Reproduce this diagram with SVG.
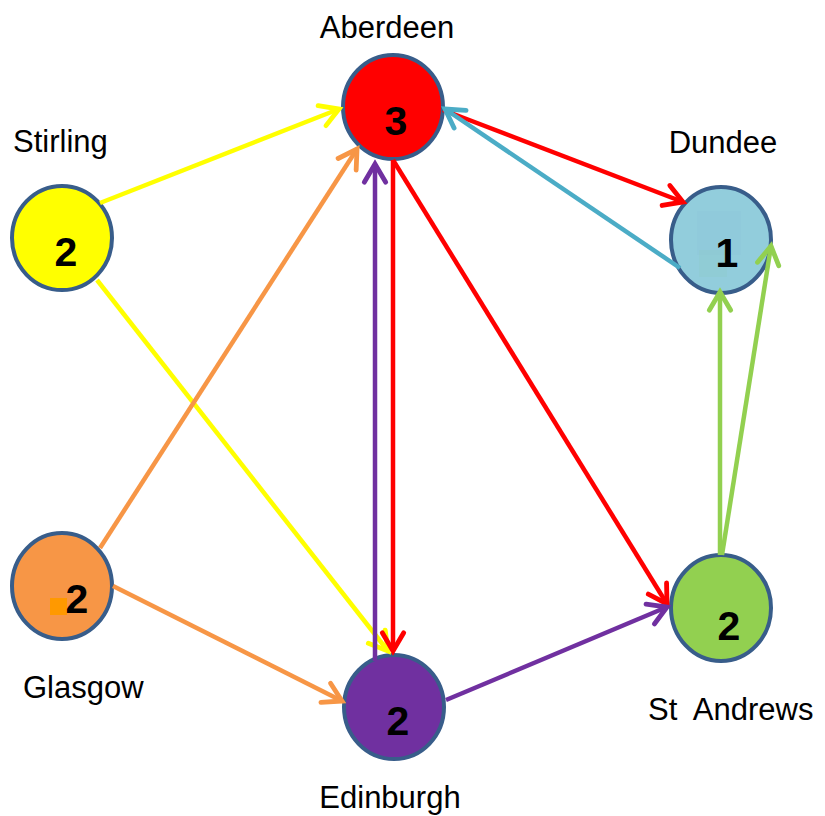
<svg xmlns="http://www.w3.org/2000/svg" width="825" height="816" viewBox="0 0 825 816">
<style>
.lbl{font-family:"Liberation Sans",Arial,sans-serif;font-size:31px;fill:#000;white-space:pre}
.num{font-family:"Liberation Sans",Arial,sans-serif;font-size:41px;font-weight:bold;fill:#000;text-anchor:middle}
.node{stroke:#385D8A;stroke-width:4}
.e{fill:none;stroke-width:4.5}
</style>
<defs>
<marker id="aY" markerUnits="userSpaceOnUse" markerWidth="30" markerHeight="30" viewBox="-22 -14 26 28" refX="0" refY="0" orient="auto"><path d="M-17,-10 L0,0 L-17,10" fill="none" stroke="#FFFF00" stroke-width="4.5" stroke-linecap="round"/></marker>
<marker id="aO" markerUnits="userSpaceOnUse" markerWidth="30" markerHeight="30" viewBox="-22 -14 26 28" refX="0" refY="0" orient="auto"><path d="M-17,-10 L0,0 L-17,10" fill="none" stroke="#F79646" stroke-width="4.5" stroke-linecap="round"/></marker>
<marker id="aP" markerUnits="userSpaceOnUse" markerWidth="30" markerHeight="30" viewBox="-22 -14 26 28" refX="0" refY="0" orient="auto"><path d="M-17,-10 L0,0 L-17,10" fill="none" stroke="#7030A0" stroke-width="4.5" stroke-linecap="round"/></marker>
<marker id="aR" markerUnits="userSpaceOnUse" markerWidth="30" markerHeight="30" viewBox="-22 -14 26 28" refX="0" refY="0" orient="auto"><path d="M-17,-10 L0,0 L-17,10" fill="none" stroke="#FF0000" stroke-width="4.5" stroke-linecap="round"/></marker>
<marker id="aB" markerUnits="userSpaceOnUse" markerWidth="30" markerHeight="30" viewBox="-22 -14 26 28" refX="0" refY="0" orient="auto"><path d="M-17,-10 L0,0 L-17,10" fill="none" stroke="#4BACC6" stroke-width="4.5" stroke-linecap="round"/></marker>
<marker id="aG" markerUnits="userSpaceOnUse" markerWidth="30" markerHeight="30" viewBox="-22 -14 26 28" refX="0" refY="0" orient="auto"><path d="M-17,-10 L0,0 L-17,10" fill="none" stroke="#92D050" stroke-width="4.5" stroke-linecap="round"/></marker>
</defs>
<rect width="825" height="816" fill="#fff"/>
<g id="stirling">
<ellipse class="node" cx="62" cy="238" rx="50" ry="52" fill="#FFFF00"/>
<text class="num" x="66" y="266">2</text>
<text class="lbl" x="13" y="152">Stirling</text>
</g>
<g id="aberdeen">
<ellipse class="node" cx="393" cy="107" rx="50" ry="52" fill="#FF0000"/>
<text class="num" x="396" y="135">3</text>
<text class="lbl" x="387" y="38" text-anchor="middle">Aberdeen</text>
</g>
<g id="dundee">
<ellipse class="node" cx="721" cy="240" rx="50" ry="53" fill="#92CDDC"/>
<rect x="697" y="211" width="44" height="44" fill="#8FC6D9" opacity="0.4"/>
<rect x="699" y="250" width="28" height="27" fill="#8FCBCB" opacity="0.4"/>
<text class="num" x="727" y="267">1</text>
<text class="lbl" x="723" y="153" text-anchor="middle">Dundee</text>
</g>
<g id="glasgow">
<ellipse class="node" cx="62" cy="586" rx="50" ry="53" fill="#F79646"/>
<rect x="50" y="598" width="17" height="17" fill="#FF9900"/>
<text class="num" x="77" y="613">2</text>
<text class="lbl" x="23" y="698">Glasgow</text>
</g>
<g id="edinburgh">
<ellipse class="node" cx="394" cy="707" rx="50" ry="52" fill="#7030A0"/>
<text class="num" x="398" y="735">2</text>
<text class="lbl" x="390" y="808" text-anchor="middle">Edinburgh</text>
</g>
<g id="standrews">
<ellipse class="node" cx="721" cy="608" rx="50" ry="53" fill="#92D050"/>
<text class="num" x="729" y="640">2</text>
<text class="lbl" x="648" y="720">St  Andrews</text>
</g>
<g id="connectors">
<line class="e" stroke="#FFFF00" x1="100" y1="203" x2="339" y2="109" marker-end="url(#aY)"/>
<line class="e" stroke="#FFFF00" x1="97" y1="280" x2="388" y2="651" marker-end="url(#aY)"/>
<line class="e" stroke="#F79646" x1="100" y1="548" x2="357" y2="149" marker-end="url(#aO)"/>
<line class="e" stroke="#F79646" x1="113" y1="586" x2="342" y2="701" marker-end="url(#aO)"/>
<line class="e" stroke="#7030A0" x1="375" y1="661" x2="375" y2="164" marker-end="url(#aP)"/>
<line class="e" stroke="#FF0000" x1="393" y1="160" x2="393" y2="651" marker-end="url(#aR)"/>
<line class="e" stroke="#FF0000" x1="393" y1="160" x2="667" y2="604" marker-end="url(#aR)"/>
<line class="e" stroke="#7030A0" x1="446" y1="700" x2="667" y2="607" marker-end="url(#aP)"/>
<line class="e" stroke="#FF0000" x1="443" y1="110" x2="683" y2="202" marker-end="url(#aR)"/>
<line class="e" stroke="#4BACC6" x1="680" y1="268" x2="445" y2="109" marker-end="url(#aB)"/>
<line class="e" stroke="#92D050" x1="720" y1="555" x2="720" y2="292" marker-end="url(#aG)"/>
<line class="e" stroke="#92D050" x1="722" y1="555" x2="771" y2="246" marker-end="url(#aG)"/>
</g>
</svg>
